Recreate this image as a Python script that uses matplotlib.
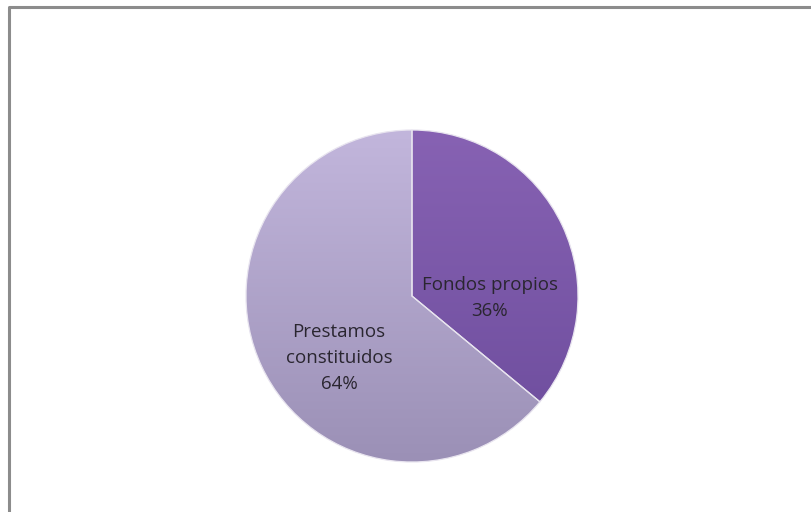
import numpy as np
import matplotlib.pyplot as plt
from matplotlib.colors import LinearSegmentedColormap

categories = ["Fondos propios", "Prestamos\nconstituidos"]
shares = [36, 64]
top_colors = ["#8762b3", "#c2b6dc"]
bottom_colors = ["#6c4c9c", "#9b90b6"]

fig = plt.figure(figsize=(8.11, 5.12), dpi=100)
ax = fig.add_axes([0, 0, 1, 1])

# chart-area frame
ax.plot([8.5, 8.5, 811], [-512, -6.5, -6.5], color="#8c8c8c", lw=2.2,
        solid_capstyle="butt")

cx, cy, r = 412, -296, 166
wedges, _ = ax.pie(shares, center=(cx, cy), radius=r, startangle=90,
                   counterclock=False, colors=top_colors,
                   wedgeprops=dict(edgecolor="#e8e4ef", linewidth=0.9),
                   frame=True)
ax.set_xlim(0, 811)
ax.set_ylim(-512, 0)
ax.set_aspect("equal")
ax.axis("off")

# vertical shading inside each slice
for w, c0, c1 in zip(wedges, top_colors, bottom_colors):
    cmap = LinearSegmentedColormap.from_list("shade", [c0, c1])
    grad = np.linspace(0, 1, 256).reshape(-1, 1)
    im = ax.imshow(grad, cmap=cmap, aspect="auto",
                   extent=(cx - r, cx + r, cy - r, cy + r), origin="upper",
                   zorder=w.get_zorder() + 0.1)
    im.set_clip_path(w)
    w.set_facecolor("none")
    w.set_zorder(w.get_zorder() + 0.2)

font = "Open Sans"
ax.text(490, -298, f"{categories[0]}\n{shares[0]}%", ha="center", va="center",
        fontsize=13.5, color="#2a2630", family=font, linespacing=1.6,
        zorder=5)
ax.text(339, -358, f"{categories[1]}\n{shares[1]}%", ha="center", va="center",
        fontsize=13.5, color="#2a2630", family=font, linespacing=1.6,
        zorder=5)

fig.savefig("out.png", dpi=100, facecolor="white")
